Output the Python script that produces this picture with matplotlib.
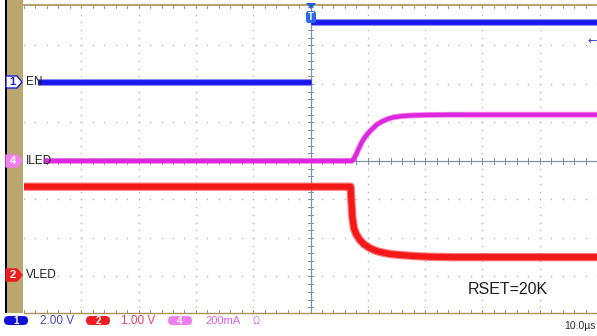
import numpy as np
import matplotlib
matplotlib.use("Agg")
import matplotlib.pyplot as plt
from matplotlib.transforms import Affine2D
from matplotlib.patches import Polygon, FancyBboxPatch, Rectangle

# ---------------- data (time in us, trigger at 0) ----------------
en_low_t = [-50, 0.0]
en_low_v = [0.0, 0.0]                    # volts
en_high_t = [0.0, 50]
en_high_v = [3.12, 3.12]                 # volts

iled_t = [-50, 7.2, 7.5, 8.0, 8.5, 9.0, 9.5, 10.0, 10.5, 11.0, 11.5, 12.5, 13.5,
          14.5, 16.0, 18.0, 21.0, 25.0, 50]
iled_i = [0, 0, 8, 35, 70, 100, 123, 142, 158, 172, 187, 205, 218,
          227, 233, 237, 239, 240, 240]   # mA

vled_t = [-50, 7.0, 7.1, 7.3, 7.6, 8.0, 8.6, 9.3, 10.3, 11.5, 12.9, 14.0, 15.5,
          18.0, 20.8, 25.0, 50]
vled_v = [2.29, 2.29, 2.0, 1.5, 1.2, 1.05, 0.91, 0.80, 0.70, 0.62, 0.57, 0.54, 0.52,
          0.49, 0.47, 0.46, 0.46]          # volts

ch_labels = ["EN", "ILED", "VLED"]
scale_labels = ["2.00 V", "1.00 V", "200mA"]
timebase_label = "10.0\u00b5s"
note_label = "RSET=20K"

# channel scales (per division) and ground offsets (divisions)
en_scale, en_off = 2.0, 2.05
iled_scale, iled_off = 200.0, 0.0
vled_scale, vled_off = 1.0, -2.96

W, H = 597, 336
fig = plt.figure(figsize=(W / 100, H / 100), dpi=100)
fig.patch.set_facecolor("white")
PX = Affine2D().scale(1 / W, -1 / H).translate(0, 1) + fig.transFigure

# axes: pixel x 24..597, y 5..313
ax = fig.add_axes([24 / W, 1 - 313 / H, (W - 24) / W, (313 - 5) / H])
ax.set_xlim(-50, 50)
ax.set_ylim(-3.95, 4.05)
ax.axis("off")

grid_c = "#b8b8b8"
for gx in range(-40, 50, 10):
    if gx == 0:
        continue
    ys = np.arange(-4, 4.01, 0.2)
    ax.plot([gx] * len(ys), ys, ls="none", marker="s", ms=1.0, color=grid_c, mew=0)
for gy in [-3, -2, -1, 1, 2, 3, 4]:
    xs = np.arange(-50, 50.01, 2)
    ax.plot(xs, [gy] * len(xs), ls="none", marker="s", ms=1.0, color=grid_c, mew=0)

axis_c = "#8290a4"
ax.plot([0, 0], [-3.95, 4.05], color=axis_c, lw=0.9)
ax.plot([-50, 50], [0, 0], color=axis_c, lw=0.9)
for yy in np.arange(-4, 4.01, 0.2):
    ax.plot([-0.45, 0.45], [yy, yy], color=axis_c, lw=0.7)
for xx in np.arange(-50, 50.01, 2):
    ax.plot([xx, xx], [-0.07, 0.07], color=axis_c, lw=0.7)

border_c = "#a89058"
ax.plot([-50, 50], [4.05, 4.05], color=border_c, lw=1.2, clip_on=False)
ax.plot([-50, 50], [-3.95, -3.95], color=border_c, lw=1.0, clip_on=False)
for xx in np.arange(-50, 50.01, 2):
    ax.plot([xx, xx], [-3.95, -3.87], color=border_c, lw=0.7)
    ax.plot([xx, xx], [4.05, 3.97], color=border_c, lw=0.6)

def trace(t, vals, scale, off, color, core, lw):
    y = np.asarray(vals, float) / scale + off
    ax.plot(t, y, color=color, lw=lw, alpha=0.75, solid_capstyle="butt",
            solid_joinstyle="round", zorder=5)
    ax.plot(t, y, color=core, lw=lw * 0.72, solid_capstyle="butt",
            solid_joinstyle="round", zorder=6)

trace(en_low_t, en_low_v, en_scale, en_off, "#4848ff", "#1818ee", 4.8)
trace(en_high_t, en_high_v, en_scale, en_off, "#4848ff", "#1818ee", 4.8)
trace(iled_t, iled_i, iled_scale, iled_off, "#f060f0", "#dc28dc", 4.2)
trace(vled_t, vled_v, vled_scale, vled_off, "#ff4848", "#f41818", 6.0)

fig.add_artist(Rectangle((7, 0), 16, 313, transform=PX, facecolor="#bba66e", edgecolor="none"))
fig.add_artist(Rectangle((5, 0), 2, 313, transform=PX, facecolor="black", edgecolor="none"))

FONT = ["Liberation Sans", "DejaVu Sans"]

def ch_marker(yc, num, face, edge, tcolor):
    pts = [(6, yc - 6), (17, yc - 6), (22, yc), (17, yc + 6), (6, yc + 6)]
    fig.add_artist(Polygon(pts, closed=True, transform=PX, facecolor=face,
                           edgecolor=edge, lw=1.0, joinstyle="round"))
    fig.text(12.5 / W, 1 - yc / H, num, ha="center", va="center", fontsize=8,
             color=tcolor, fontweight="bold", family=FONT)

ch_marker(82, "1", "white", "#2020e0", "#2020e0")
ch_marker(161, "4", "#f27ef2", "#f27ef2", "white")
ch_marker(275, "2", "#ee1c24", "#ee1c24", "white")

for lab, yc, right in zip(ch_labels, [82, 161, 275], [38, 45, 50]):
    fig.add_artist(Rectangle((24, yc - 6), right - 24, 12, transform=PX,
                             facecolor="white", edgecolor="none", zorder=3))
    fig.text(26 / W, 1 - yc / H, lab, ha="left", va="center", fontsize=8.5,
             color="#202020", family=FONT, zorder=4)

fig.add_artist(Polygon([(306, 3), (316, 3), (311, 9)], closed=True, transform=PX,
                       facecolor="#2060e0", edgecolor="none"))
fig.add_artist(FancyBboxPatch((306, 11), 10, 12, boxstyle="round,pad=0,rounding_size=2.5",
                              transform=PX, facecolor="#2a6ae8", edgecolor="none"))
fig.text(311 / W, 1 - 17 / H, "T", ha="center", va="center", fontsize=7,
         color="white", fontweight="bold", family=FONT)
fig.text(597 / W, 1 - 41 / H, "\u2190", ha="right", va="center", fontsize=8,
         color="#2040d0", family=["DejaVu Sans"])

fig.text(508 / W, 1 - 290 / H, note_label, ha="center", va="center", fontsize=11.5,
         color="#202020", family=FONT)

def pill(xc, num, color):
    fig.add_artist(FancyBboxPatch((xc - 12, 316), 24, 9, boxstyle="round,pad=0,rounding_size=4.5",
                                  transform=PX, facecolor=color, edgecolor="none"))
    fig.text(xc / W, 1 - 320.5 / H, num, ha="center", va="center", fontsize=7,
             color="white", fontweight="bold", family=FONT)

pill(16, "1", "#1010d8")
pill(98, "2", "#ee1c24")
pill(180, "4", "#f07ef0")
fig.text(40 / W, 1 - 321 / H, scale_labels[0], ha="left", va="center", fontsize=8.5,
         color="#4848c8", family=FONT)
fig.text(121 / W, 1 - 321 / H, scale_labels[1], ha="left", va="center", fontsize=8.5,
         color="#e8406a", family=FONT)
fig.text(205 / W, 1 - 321 / H, scale_labels[2], ha="left", va="center", fontsize=8,
         color="#e060e8", family=FONT)
fig.text(253 / W, 1 - 321 / H, "\u03a9", ha="left", va="center", fontsize=7,
         color="#e070e8", family=FONT)
fig.text(596 / W, 1 - 326 / H, timebase_label, ha="right", va="center", fontsize=7.5,
         color="#303030", family=FONT)

fig.savefig("out.png", dpi=100, facecolor="white")
